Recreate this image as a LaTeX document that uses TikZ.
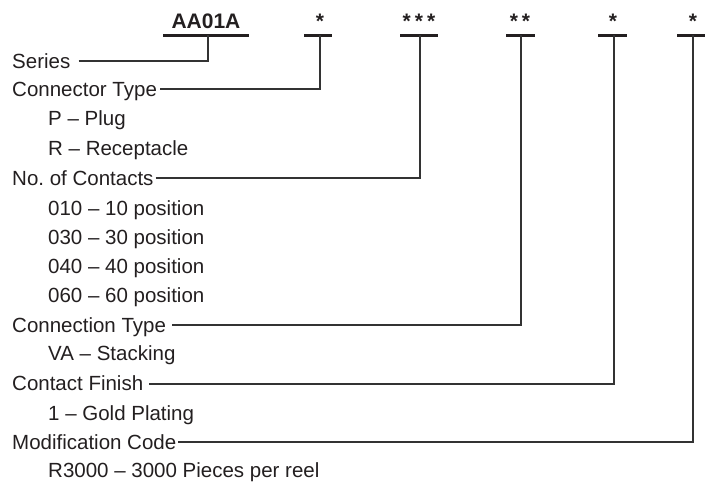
\documentclass[tikz,border=0pt]{standalone}
\usepackage{fontspec}
\setmainfont{Liberation Sans}
\definecolor{ink}{HTML}{231F20}
\definecolor{wire}{HTML}{333333}
\begin{document}
\begin{tikzpicture}[x=1pt,y=-1pt,
  lbl/.style={anchor=base west,inner sep=0pt,text=ink,font=\fontsize{20.5}{24}\selectfont},
  head/.style={anchor=base,inner sep=0pt,text=ink,font=\bfseries\fontsize{21}{24}\selectfont},
  bar/.style={draw=ink,line width=3pt},
  wirel/.style={draw=wire,line width=1.3pt}]
\useasboundingbox (0,0) rectangle (705,483);
% header
\node[head] (code) at (206,28) {AA01A};
\node[head] (s1) at (320,28) {*};
\node[head] (s2) at (419,28) {*\kern4pt*\kern4pt*};
\node[head] (s3) at (520,28) {*\kern4pt*};
\node[head] (s4) at (613,28) {*};
\node[head] (s5) at (693,28) {*};
\draw[bar] (163,35) -- (249,35);
\draw[bar] (304,35) -- (332,35);
\draw[bar] (400,35) -- (438,35);
\draw[bar] (506,35) -- (535,35);
\draw[bar] (598,35) -- (627,35);
\draw[bar] (677,35) -- (705,35);
\coordinate (c1) at (208,35);
\coordinate (c2) at (320,35);
\coordinate (c3) at (420,35);
\coordinate (c4) at (521,35);
\coordinate (c5) at (614,35);
\coordinate (c6) at (693,35);
% labels
\node[lbl] (series) at (12,68) {Series};
\node[lbl] (ctype)  at (12,96) {Connector Type};
\node[lbl] (p)      at (48,125) {P -- Plug};
\node[lbl] (r)      at (48,155) {R -- Receptacle};
\node[lbl] (ncont)  at (12,185) {No.\ of Contacts};
\node[lbl] (n10)    at (48,215) {010 -- 10 position};
\node[lbl] (n30)    at (48,244) {030 -- 30 position};
\node[lbl] (n40)    at (48,273) {040 -- 40 position};
\node[lbl] (n60)    at (48,302) {060 -- 60 position};
\node[lbl] (conn)   at (12,332) {Connection Type};
\node[lbl] (va)     at (48,360) {VA -- Stacking};
\node[lbl] (fin)    at (12,390) {Contact Finish};
\node[lbl] (gold)   at (48,420) {1 -- Gold Plating};
\node[lbl] (mod)    at (12,449) {Modification Code};
\node[lbl] (r3000)  at (48,477) {R3000 -- 3000 Pieces per reel};
% connectors
\draw[wirel] (series.base east) ++(8,-7) -| (c1);
\draw[wirel] (ctype.base east) ++(3,-7) -| (c2);
\draw[wirel] (ncont.base east) ++(2,-7) -| (c3);
\draw[wirel] (conn.base east) ++(6,-7) -| (c4);
\draw[wirel] (fin.base east) ++(6,-6) -| (c5);
\draw[wirel] (mod.base east) ++(2,-7) -| (c6);
\end{tikzpicture}
\end{document}
